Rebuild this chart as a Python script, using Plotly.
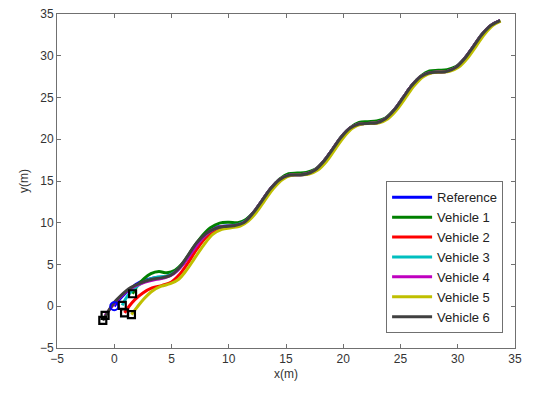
import plotly.graph_objects as go

# Reference path (m)
REF_X = [0.0, 0.5, 1.0, 1.5, 2.2, 2.93, 3.70, 4.47, 5.24, 6.01, 6.78, 7.54, 8.31, 9.08,
         9.85, 10.62, 11.39, 12.16, 12.93, 13.69, 14.46, 15.23, 16.00, 16.77, 17.54,
         18.31, 19.08, 19.84, 20.61, 21.38, 22.15, 22.92, 23.69, 24.46, 25.23, 25.99,
         26.76, 27.53, 28.30, 29.07, 29.84, 30.61, 31.38, 32.14, 32.91, 33.70]
REF_Y = [0.0, 0.9, 1.6, 2.2, 2.85, 3.2, 3.45, 3.53, 4.01, 5.07, 6.53, 7.98, 9.04, 9.52,
         9.60, 9.68, 10.16, 11.22, 12.68, 14.13, 15.19, 15.67, 15.75, 15.83, 16.31,
         17.37, 18.83, 20.28, 21.34, 21.82, 21.90, 21.98, 22.46, 23.52, 24.98, 26.43,
         27.49, 27.97, 28.05, 28.13, 28.61, 29.67, 31.13, 32.58, 33.64, 34.20]
TAIL_START = 17  # index where the vehicles have settled onto the reference

# Vehicle paths before settling (m)
V1_X = [1.6, 2.0, 2.6, 3.2, 3.9, 4.6, 5.3, 6.0, 6.8, 7.6, 8.4, 9.2, 10.0, 10.8, 11.5]
V1_Y = [1.5, 2.4, 3.3, 3.9, 4.15, 4.0, 4.3, 5.2, 6.8, 8.3, 9.4, 9.95, 10.05, 10.0, 10.4]
V2_X = [0.9, 1.3, 1.8, 2.5, 3.3, 4.2, 5.0, 5.7, 6.4, 7.2, 8.0, 8.8, 9.7, 10.6, 11.4]
V2_Y = [-0.8, 0.0, 0.8, 1.6, 2.2, 2.5, 2.9, 3.8, 5.1, 6.8, 8.2, 9.0, 9.4, 9.6, 10.1]
V3_X = [0.7, 1.0, 1.5, 2.2, 3.0, 3.8, 4.6, 5.3, 6.0, 6.8, 7.6, 8.4, 9.2, 10.0, 10.7, 11.4]
V3_Y = [0.1, 0.9, 1.8, 2.6, 3.2, 3.5, 3.6, 4.1, 5.1, 6.6, 8.0, 9.0, 9.5, 9.65, 9.75, 10.15]
V4_X = [-0.8, -0.3, 0.3, 1.0, 1.8, 2.7, 3.6, 4.4, 5.2, 6.0, 6.8, 7.6, 8.4, 9.2, 10.0, 10.7, 11.4]
V4_Y = [-1.1, -0.2, 0.8, 1.7, 2.4, 2.9, 3.2, 3.4, 3.9, 5.0, 6.5, 8.0, 9.0, 9.5, 9.6, 9.7, 10.1]
V5_X = [1.5, 2.0, 2.6, 3.3, 4.1, 4.9, 5.6, 6.3, 7.0, 7.8, 8.6, 9.4, 10.2, 11.0, 11.7]
V5_Y = [-1.0, -0.1, 0.9, 1.8, 2.4, 2.7, 3.2, 4.3, 5.7, 7.3, 8.6, 9.2, 9.4, 9.6, 10.2]
V6_X = [-1.0, -0.6, -0.1, 0.6, 1.4, 2.3, 3.2, 4.1, 4.9, 5.6, 6.4, 7.2, 8.0, 8.8, 9.6, 10.4, 11.3]
V6_Y = [-1.7, -0.8, 0.3, 1.3, 2.2, 2.8, 3.2, 3.4, 3.7, 4.5, 6.0, 7.6, 8.7, 9.3, 9.55, 9.65, 10.0]

# Vehicle 1 rides slightly high on the flat stretches
V1_TAIL_X = [12.16, 12.93, 13.69, 14.46, 15.23, 16.00, 16.77, 17.54, 18.31, 19.08, 19.84,
             20.61, 21.38, 22.15, 22.92, 23.69, 24.46, 25.23, 25.99, 26.76, 27.53, 28.30,
             29.07, 29.84, 30.61, 31.38, 32.14, 32.91, 33.70]
V1_TAIL_Y = [11.22, 12.68, 14.13, 15.25, 15.87, 15.95, 16.03, 16.40, 17.40, 18.83, 20.30,
             21.40, 22.02, 22.10, 22.18, 22.55, 23.55, 24.98, 26.45, 27.55, 28.17, 28.25,
             28.33, 28.70, 29.70, 31.13, 32.60, 33.66, 34.22]
# Vehicle 5 trails slightly to the right
V5_TAIL_X = [12.40, 13.15, 13.92, 14.70, 15.47, 16.24, 17.01, 17.78, 18.55, 19.30, 20.06,
             20.83, 21.60, 22.37, 23.14, 23.91, 24.68, 25.45, 26.21, 26.98, 27.75, 28.52,
             29.29, 30.06, 30.83, 31.60, 32.34, 33.08, 33.75]
V5_TAIL_Y = [11.22, 12.68, 14.13, 15.19, 15.67, 15.75, 15.83, 16.31, 17.37, 18.83, 20.28,
             21.34, 21.82, 21.90, 21.98, 22.46, 23.52, 24.98, 26.43, 27.49, 27.97, 28.05,
             28.13, 28.61, 29.67, 31.13, 32.58, 33.64, 34.15]

NAMES = ["Reference", "Vehicle 1", "Vehicle 2", "Vehicle 3", "Vehicle 4", "Vehicle 5", "Vehicle 6"]
COLORS = ["#0000ff", "#008000", "#ff0000", "#00bfbf", "#bf00bf", "#bfbf00", "#404040"]

TICKS = [-5, 0, 5, 10, 15, 20, 25, 30, 35]

tail_x = REF_X[TAIL_START:]
tail_y = REF_Y[TAIL_START:]
paths = [
    (REF_X, REF_Y),
    (V1_X + V1_TAIL_X, V1_Y + V1_TAIL_Y),
    (V2_X + tail_x, V2_Y + tail_y),
    (V3_X + tail_x, V3_Y + tail_y),
    (V4_X + tail_x, V4_Y + tail_y),
    (V5_X + V5_TAIL_X, V5_Y + V5_TAIL_Y),
    (V6_X + tail_x, V6_Y + tail_y),
]

fig = go.Figure()
for (xs, ys), name, color in zip(paths, NAMES, COLORS):
    fig.add_trace(go.Scatter(
        x=xs, y=ys, mode="lines", name=name,
        line=dict(color=color, width=3, shape="spline", smoothing=1.0),
    ))

# Start markers
fig.add_trace(go.Scatter(
    x=[REF_X[0]], y=[REF_Y[0]], mode="markers", showlegend=False,
    marker=dict(symbol="circle-open", size=8, color="#0000ff", line=dict(width=2)),
))
starts = [V1_X, V2_X, V3_X, V4_X, V5_X, V6_X]
starts_y = [V1_Y, V2_Y, V3_Y, V4_Y, V5_Y, V6_Y]
fig.add_trace(go.Scatter(
    x=[s[0] for s in starts], y=[s[0] for s in starts_y], mode="markers", showlegend=False,
    marker=dict(symbol="square-open", size=7, color="#000000", line=dict(width=2.2)),
))

axis_common = dict(
    showgrid=False, zeroline=False, showline=True, linecolor="#707070", linewidth=1,
    mirror="ticks", ticks="inside", ticklen=4, tickcolor="#707070",
    ticklabeloverflow="allow",
    tickvals=TICKS, tickfont=dict(family="Liberation Sans, Arial", size=12, color="#333333"),
)
fig.update_xaxes(range=[-5, 35], title=dict(text="x(m)", standoff=4,
                 font=dict(family="Liberation Sans, Arial", size=12, color="#333333")),
                 **axis_common)
fig.update_yaxes(range=[-5, 35], title=dict(text="y(m)", standoff=8,
                 font=dict(family="Liberation Sans, Arial", size=12, color="#333333")),
                 **axis_common)

fig.update_layout(
    width=537, height=395,
    margin=dict(l=57, r=22, t=7, b=47),
    paper_bgcolor="white", plot_bgcolor="white",
    legend=dict(
        x=0.974, y=0.044, xanchor="right", yanchor="bottom",
        bgcolor="white", bordercolor="#707070", borderwidth=1,
        font=dict(family="Liberation Sans, Arial", size=13, color="#222222"),
        tracegroupgap=0, itemwidth=40,
    ),
    showlegend=True,
)

fig.write_html("out.html")
